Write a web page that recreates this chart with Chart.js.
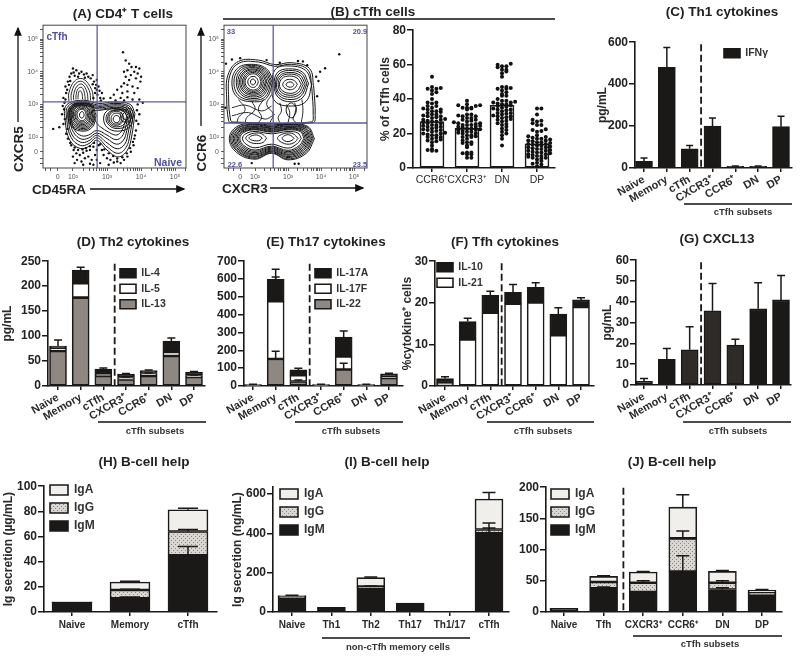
<!DOCTYPE html>
<html>
<head>
<meta charset="utf-8">
<title>cTfh figure</title>
<script src="https://cdn.jsdelivr.net/npm/chart.js@4"></script>
<style>
html, body { margin: 0; padding: 0; background: #fff; }
#page { position: relative; width: 800px; height: 660px; overflow: hidden; filter: blur(0.4px); }
#page canvas, #page svg { position: absolute; }
.lbl { position: absolute; white-space: nowrap; color: #222; font-family: "Liberation Sans", Arial, sans-serif; transform: translate(-50%, -50%); }
</style>
</head>
<body>
<div id="page">
<svg width="800" height="660" style="left:0;top:0">
  <defs><marker id="tip" markerWidth="7" markerHeight="6" refX="6" refY="3" orient="auto"><path d="M0 0L7 3L0 6z" fill="#111"/></marker></defs>
  <g stroke="#111" stroke-width="1.3">
    <line x1="18" y1="122" x2="18" y2="28" marker-end="url(#tip)"/>
    <line x1="90" y1="189" x2="184" y2="189" marker-end="url(#tip)"/>
    <line x1="201" y1="126" x2="201" y2="28" marker-end="url(#tip)"/>
    <line x1="270" y1="188" x2="363" y2="188" marker-end="url(#tip)"/>
    <line x1="223" y1="19" x2="555" y2="19"/>
    <line x1="684" y1="204" x2="792" y2="204"/>
    <line x1="98" y1="422" x2="206" y2="422"/>
    <line x1="295" y1="422" x2="403" y2="422"/>
    <line x1="487" y1="422" x2="594" y2="422"/>
    <line x1="683" y1="422" x2="791" y2="422"/>
    <line x1="322" y1="638" x2="470" y2="638"/>
    <line x1="633" y1="636" x2="782" y2="636"/>
  </g>
</svg>
</div>
<script>
const cytoCats = ['Naive', 'Memory', 'cTfh', 'CXCR3⁺', 'CCR6⁺', 'DN', 'DP']
const subsetCats = ['CCR6⁺', 'CXCR3⁺', 'DN', 'DP']
const helpCatsH = ['Naive', 'Memory', 'cTfh']
const helpCatsI = ['Naive', 'Th1', 'Th2', 'Th17', 'Th1/17', 'cTfh']
const helpCatsJ = ['Naive', 'Tfh', 'CXCR3⁺', 'CCR6⁺', 'DN', 'DP']

const ticksB = [0, 20, 40, 60, 80]
const ticksC = [0, 200, 400, 600]
const ticksD = [0, 50, 100, 150, 200, 250]
const ticksE = [0, 100, 200, 300, 400, 500, 600, 700]
const ticksF = [0, 10, 20, 30]
const ticksG = [0, 10, 20, 30, 40, 50, 60]
const ticksH = [0, 20, 40, 60, 80, 100]
const ticksI = [0, 200, 400, 600]
const ticksJ = [0, 50, 100, 150, 200]

// panel B
const subsetMeans = [27, 23, 36.4, 14]
const ccr6Points = [53,47,46.5,46,46,45,44,43,40,38,38,37.5,36,36,35,34.5,34,34,33,33,32.5,32,31,31,30.5,30,30,29.5,29,28.5,28,28,27.5,27,27,26.5,26,26,25,25,24.5,24,24,23.5,23,22.5,22,22,21.5,21,20.5,20,20,19.5,19,19,18,18,17.5,17,16.5,16,15.5,15,13,11,10.5,10,10]
const cxcr3Points = [39,37,36.5,36.5,36,35,35,35,34.5,34,31,31,30.5,30,30,29,29,28,28,27.5,27,26.5,26,26,25.5,25,25,25,24.5,24,24,23.5,23,23,22.5,22,22,21.5,21,21,20.5,20,20,19,19,18.5,18,18,17,16,15,15,14.5,14,13,12,9,9,8.5,8,8,6,6]
const dnPoints = [60.5,60,59,59,58.5,57,57,56,55,53,47,47,46.5,46,46,45,44,43,42,42,40,39,39,38.5,38,38,37.5,37,37,36.5,36,35.5,35,34.5,34,34,33.5,33,32,32,31.5,31,30.5,30,30,29.5,29,28.5,28,27.5,27,26,25.5,25,24,23,22,21,20,19,17,13]
const dpPoints = [34.5,34.5,31,28,27.5,27,26,25,25,22.5,22,21.5,21,19,18.5,18,17.5,17,17,16.5,16,16,15.5,15,15,14.5,14,14,13.5,13,13,12.5,12,12,11.5,11,11,10.5,10,10,9.5,9,9,8.5,8,8,7.5,7,7,6.5,6,6,5.5,5,4,3,2.5,2,1]

// panel C
const ifng = [32, 480, 92, 200, 8, 8, 197]
const ifngErr = [16, 95, 15, 38, 2, 2, 50]
// panel D
const il13 = [70, 177, 20, 13, 20, 60, 18]
const il13Err = [0, 0, 0, 0, 0, 0, 0]
const il5 = [6, 29, 4, 4, 5, 8, 3]
const il5Err = [0, 0, 2, 1, 1, 0, 1]
const il4 = [4, 26, 10, 7, 6, 22, 7]
const il4Err = [12, 6, 2, 1, 1, 6, 1]
// panel E
const il22 = [4, 152, 25, 4, 92, 4, 45]
const il22Err = [0, 43, 8, 0, 36, 0, 0]
const il17f = [2, 323, 35, 2, 73, 2, 5]
const il17fErr = [0, 137, 5, 0, 0, 0, 0]
const il17a = [2, 123, 30, 2, 110, 2, 18]
const il17aErr = [2, 57, 10, 2, 33, 2, 4]
// panel F
const il21 = [0.7, 11.2, 17.6, 19.8, 20.1, 12.2, 19]
const il21Err = [0, 0, 0, 0, 0, 0, 0]
const il10 = [1.1, 4.3, 4.2, 2.7, 3.6, 5.1, 1.7]
const il10Err = [0.4, 0.8, 1, 1.9, 1.1, 1.5, 0.5]
// panel G
const cxcl13 = [1.8, 12.3, 16.9, 35.7, 19.2, 36.6, 40.9]
const cxcl13Err = [1.3, 5.3, 11.1, 13.1, 2.8, 12.6, 11.8]
// panel H
const igmH = [7.6, 11, 45]
const igmHErr = [0, 1, 7]
const iggH = [0.2, 6.5, 19]
const iggHErr = [0, 0.5, 1.5]
const igaH = [0.2, 6.3, 17.3]
const igaHErr = [0, 0.7, 1.2]
// panel I
const igmI = [72, 24, 122, 45, 0, 400]
const igmIErr = [0, 0, 0, 0, 0, 28]
const iggI = [6, 0, 8, 0, 0, 20]
const iggIErr = [0, 0, 2, 0, 0, 33]
const igaI = [6, 0, 45, 0, 0, 155]
const igaIErr = [1, 0, 3, 0, 0, 33]
// panel J
const igmJ = [6, 38, 32, 65, 36, 27]
const igmJErr = [0, 2, 0, 25, 3, 0]
const iggJ = [0, 10, 15, 53, 11, 4]
const iggJErr = [0, 0, 3, 12, 3, 0]
const igaJ = [0, 9, 17, 50, 18, 4]
const igaJErr = [0, 1, 1, 20, 1.5, 1]

// flow plots, values in decades of the biexponential axis
const flowTicks = [1.55, 2, 3, 4, 5]
const flowTickLabels = ['0', '10²', '10³', '10⁴', '10⁵']
const flowMinorTicks = [1.2, 1.35, 2.3, 2.48, 2.6, 2.7, 2.78, 2.85, 2.9, 2.95, 3.3, 3.48, 3.6, 3.7, 3.78, 3.85, 3.9, 3.95, 4.3, 4.48, 4.6, 4.7, 4.78, 4.85, 4.9, 4.95, 5.3]

const aGateX = 2.71
const aGateY = 3.08
const bGateX = 2.55
const bGateY = 2.43

const aRings = [
  [[2.33,2.68],[2.31,2.75],[2.26,2.78],[2.21,2.74],[2.19,2.67],[2.21,2.61],[2.26,2.58],[2.31,2.62]],
  [[2.39,2.68],[2.35,2.80],[2.26,2.85],[2.16,2.80],[2.12,2.68],[2.17,2.55],[2.27,2.50],[2.36,2.56]],
  [[2.43,2.67],[2.38,2.82],[2.26,2.88],[2.13,2.82],[2.08,2.68],[2.14,2.52],[2.27,2.46],[2.39,2.53]],
  [[2.46,2.66],[2.41,2.84],[2.26,2.92],[2.11,2.85],[2.05,2.68],[2.12,2.50],[2.28,2.42],[2.42,2.50]],
  [[2.50,2.66],[2.44,2.86],[2.26,2.95],[2.08,2.88],[2.01,2.68],[2.09,2.47],[2.28,2.38],[2.45,2.47]],
  [[2.53,2.66],[2.46,2.88],[2.26,2.98],[2.06,2.90],[1.98,2.68],[2.07,2.44],[2.29,2.34],[2.47,2.44]],
  [[2.57,2.65],[2.49,2.90],[2.26,3.00],[2.03,2.92],[1.94,2.68],[2.04,2.41],[2.30,2.30],[2.50,2.41]],
  [[2.60,2.64],[2.52,2.93],[2.27,3.03],[2.01,2.94],[1.91,2.68],[2.02,2.38],[2.30,2.26],[2.53,2.38]],
  [[2.64,2.65],[2.54,2.95],[2.27,3.05],[1.99,2.95],[1.88,2.67],[2.00,2.34],[2.31,2.22],[2.55,2.35]],
  [[2.68,2.66],[2.56,2.97],[2.27,3.07],[1.97,2.97],[1.85,2.66],[1.98,2.30],[2.32,2.18],[2.58,2.32]],
  [[3.38,2.55],[3.35,2.63],[3.28,2.66],[3.21,2.63],[3.18,2.55],[3.21,2.47],[3.28,2.44],[3.35,2.47]],
  [[3.44,2.57],[3.38,2.70],[3.28,2.73],[3.17,2.69],[3.12,2.56],[3.16,2.44],[3.28,2.40],[3.39,2.44]],
  [[3.66,2.65],[3.62,2.74],[3.56,2.78],[3.49,2.74],[3.46,2.65],[3.49,2.56],[3.56,2.52],[3.62,2.56]],
  [[3.72,2.65],[3.66,2.80],[3.56,2.84],[3.44,2.78],[3.40,2.65],[3.44,2.50],[3.56,2.46],[3.67,2.50]],
  [[3.50,2.58],[3.42,2.74],[3.28,2.78],[3.13,2.74],[3.06,2.58],[3.12,2.42],[3.28,2.36],[3.42,2.42]],
  [[3.60,2.60],[3.50,2.78],[3.29,2.82],[3.10,2.76],[3.02,2.58],[3.09,2.39],[3.29,2.31],[3.50,2.39]],
  [[3.72,2.60],[3.60,2.80],[3.30,2.84],[3.08,2.78],[2.97,2.58],[3.06,2.36],[3.30,2.26],[3.60,2.36]],
  [[3.78,2.66],[3.70,2.86],[3.30,2.88],[3.02,2.82],[2.90,2.58],[3.00,2.30],[3.30,2.18],[3.66,2.30]],
  [[3.82,2.72],[3.68,3.00],[3.20,3.07],[2.75,3.03],[2.30,3.13],[1.81,2.98],[1.77,2.52],[1.91,1.90],[2.21,1.65],[2.48,1.72],[2.70,1.90],[3.00,1.60],[3.33,1.39],[3.60,1.60],[3.72,2.00]],
  [[3.77,2.72],[3.64,2.96],[3.20,3.03],[2.75,2.98],[2.30,3.09],[1.86,2.95],[1.82,2.52],[1.95,1.98],[2.22,1.74],[2.47,1.80],[2.70,1.98],[3.00,1.70],[3.32,1.50],[3.56,1.68],[3.67,2.05]],
  [[3.72,2.70],[3.60,2.93],[3.20,2.99],[2.75,2.94],[2.30,3.05],[1.90,2.92],[1.87,2.50],[1.98,2.06],[2.23,1.84],[2.46,1.88],[2.70,2.05],[3.00,1.82],[3.30,1.64],[3.52,1.78],[3.62,2.12]],
  [[3.67,2.68],[3.55,2.90],[3.20,2.95],[2.75,2.90],[2.30,3.02],[1.95,2.90],[1.92,2.50],[2.02,2.14],[2.24,1.94],[2.46,1.97],[2.70,2.12],[3.00,1.95],[3.28,1.78],[3.48,1.90],[3.58,2.20]],
  [[3.62,2.66],[3.50,2.86],[3.20,2.91],[2.78,2.86],[2.30,2.98],[2.00,2.88],[1.96,2.50],[2.06,2.20],[2.25,2.04],[2.46,2.06],[2.70,2.20],[3.00,2.06],[3.26,1.92],[3.44,2.02],[3.54,2.28]],
  [[3.58,2.64],[3.46,2.82],[3.20,2.87],[2.80,2.82],[2.55,2.78],[2.72,2.40],[2.85,2.28],[3.00,2.18],[3.25,2.06],[3.40,2.14],[3.50,2.36]]
]
const aArches = [
  [[2.60,3.12],[2.55,3.45],[2.30,3.78],[2.05,3.72],[1.88,3.35],[1.88,3.10]],
  [[2.52,3.12],[2.48,3.42],[2.28,3.70],[2.08,3.64],[1.95,3.32],[1.95,3.12]],
  [[2.44,3.12],[2.41,3.38],[2.27,3.62],[2.12,3.56],[2.02,3.30],[2.02,3.14]],
  [[2.36,3.14],[2.34,3.34],[2.26,3.52],[2.15,3.48],[2.09,3.28],[2.09,3.15]],
  [[2.28,3.16],[2.27,3.32],[2.22,3.42],[2.18,3.40],[2.15,3.26],[2.15,3.16]]
]
const aDots = [[1.80,3.35],[1.78,3.55],[1.85,3.70],[1.90,3.85],[1.95,3.95],[2.02,3.98],[2.10,4.05],[2.18,3.95],[2.25,4.00],[2.32,3.92],[2.40,3.95],[2.45,3.85],[2.52,3.80],[2.58,3.90],[2.62,3.70],[2.68,3.60],[2.70,3.75],[2.75,3.55],[2.78,3.42],[2.72,3.30],[2.65,3.35],[2.80,3.20],[2.85,3.35],[2.90,3.18],[1.72,3.20],[1.75,3.05],[2.00,4.10],[1.88,3.60],[2.65,3.50],[2.60,3.20],[1.83,3.45],[1.92,3.72],[2.05,3.88],[2.15,3.85],[2.35,3.82],[2.58,3.62],[2.70,3.45],[2.82,3.12],[1.78,3.15],
  [3.55,4.35],[3.65,4.25],[3.72,4.15],[3.85,4.15],[3.95,4.10],[3.50,4.00],[3.60,4.05],[3.80,4.00],[3.90,3.95],[3.70,3.90],[3.55,3.85],[3.65,3.75],[3.85,3.80],[3.98,3.70],[4.00,3.85],[3.50,3.65],[3.42,3.55],[3.60,3.60],[3.75,3.55],[3.90,3.50],[3.30,3.45],[3.45,3.35],[3.60,3.40],[3.80,3.35],[3.20,3.30],[3.10,3.20],[3.40,3.20],[3.60,3.22],[3.75,3.15],[3.95,3.15],[4.05,3.05],[3.25,3.12],[3.50,3.12],[3.47,4.60],
  [1.95,1.75],[2.02,1.60],[2.10,1.50],[2.20,1.45],[2.30,1.52],[2.40,1.58],[2.50,1.60],[2.60,1.70],[2.00,1.40],[2.12,1.30],[2.25,1.25],[2.35,1.35],[2.45,1.40],[2.55,1.30],[2.65,1.45],[2.70,1.60],[2.75,1.75],[2.85,1.60],[2.90,1.45],[3.00,1.35],[3.10,1.30],[3.20,1.22],[3.30,1.25],[3.40,1.20],[3.50,1.30],[3.60,1.40],[3.70,1.55],[3.78,1.75],[2.05,1.20],[2.30,1.15],[2.60,1.15],[2.80,1.20],[3.05,1.15],[2.70,1.30],[2.50,1.18],[1.85,1.95],[1.80,2.10],[3.80,1.95],[3.85,2.20],[3.92,2.40],[3.95,2.70],[1.72,2.40],[1.68,2.70],[1.70,2.95],[3.90,3.00],[1.42,2.25],[1.60,2.30],
  [1.92,1.82],[2.05,1.68],[2.15,1.60],[2.28,1.62],[2.38,1.66],[2.50,1.72],[2.62,1.82],[2.80,1.78],[2.92,1.62],[3.05,1.50],[3.18,1.42],[3.30,1.34],[3.45,1.38],[3.58,1.50],[3.68,1.66],[3.76,1.85],[3.82,2.05],[1.84,2.25],[1.76,2.55],[1.74,2.85],[3.86,2.50],[3.88,2.82]]

const bRings = [
  [[2.02,3.69],[1.99,3.75],[1.94,3.78],[1.88,3.75],[1.86,3.68],[1.89,3.62],[1.94,3.60],[1.99,3.63]],
  [[2.10,3.70],[2.04,3.82],[1.94,3.86],[1.83,3.81],[1.78,3.69],[1.83,3.57],[1.95,3.52],[2.05,3.58]],
  [[2.18,3.70],[2.10,3.87],[1.93,3.94],[1.77,3.86],[1.70,3.68],[1.78,3.51],[1.95,3.44],[2.11,3.52]],
  [[2.22,3.70],[2.13,3.90],[1.93,3.98],[1.74,3.89],[1.66,3.68],[1.75,3.48],[1.95,3.40],[2.14,3.49]],
  [[2.27,3.70],[2.16,3.93],[1.93,4.02],[1.71,3.92],[1.62,3.68],[1.72,3.45],[1.96,3.36],[2.17,3.46]],
  [[2.32,3.71],[2.19,3.96],[1.92,4.06],[1.67,3.95],[1.57,3.68],[1.69,3.41],[1.96,3.32],[2.20,3.42]],
  [[2.36,3.72],[2.22,3.98],[1.92,4.09],[1.64,3.97],[1.53,3.68],[1.66,3.38],[1.96,3.28],[2.22,3.38]],
  [[2.41,3.72],[2.25,4.01],[1.91,4.13],[1.60,4.00],[1.48,3.68],[1.62,3.34],[1.96,3.23],[2.25,3.34]],
  [[2.46,3.72],[2.28,4.04],[1.90,4.16],[1.56,4.04],[1.43,3.68],[1.58,3.30],[1.97,3.18],[2.28,3.30]],
  [[2.50,3.73],[2.31,4.07],[1.89,4.20],[1.51,4.07],[1.36,3.67],[1.52,3.26],[1.98,3.13],[2.32,3.25]],
  [[2.55,3.74],[2.34,4.10],[1.88,4.23],[1.46,4.10],[1.30,3.66],[1.47,3.22],[1.98,3.08],[2.35,3.20]],
  [[3.18,3.61],[3.13,3.67],[3.05,3.69],[2.97,3.66],[2.94,3.60],[2.98,3.55],[3.07,3.53],[3.14,3.55]],
  [[3.28,3.62],[3.19,3.73],[3.04,3.77],[2.90,3.72],[2.84,3.60],[2.91,3.50],[3.07,3.45],[3.20,3.50]],
  [[3.40,3.62],[3.27,3.81],[3.03,3.87],[2.82,3.80],[2.74,3.60],[2.83,3.42],[3.08,3.34],[3.28,3.42]],
  [[3.46,3.62],[3.32,3.86],[3.02,3.93],[2.78,3.84],[2.70,3.60],[2.80,3.37],[3.08,3.28],[3.32,3.37]],
  [[3.52,3.62],[3.36,3.90],[3.02,3.98],[2.75,3.88],[2.65,3.60],[2.76,3.32],[3.08,3.22],[3.36,3.32]],
  [[3.57,3.63],[3.40,3.95],[3.02,4.04],[2.72,3.93],[2.62,3.60],[2.73,3.27],[3.09,3.15],[3.40,3.27]],
  [[3.62,3.64],[3.44,3.99],[3.02,4.09],[2.68,3.98],[2.58,3.60],[2.70,3.22],[3.10,3.08],[3.45,3.22]],
  [[3.72,3.62],[3.52,4.05],[3.00,4.18],[2.62,4.08],[2.52,3.60],[2.60,3.10],[3.10,2.95],[3.55,3.10]],
  [[3.78,3.50],[3.65,4.10],[3.10,4.28],[2.60,4.22],[2.10,4.36],[1.50,4.32],[1.18,3.90],[1.14,3.20],[1.20,2.50],[1.28,2.44],[3.75,2.44],[3.82,2.70]],
  [[3.72,3.50],[3.60,4.06],[3.10,4.23],[2.60,4.17],[2.10,4.30],[1.52,4.27],[1.24,3.90],[1.20,3.20],[1.26,2.52],[1.33,2.46],[3.70,2.46],[3.76,2.70]],
  [[3.25,2.90],[3.10,3.05],[2.95,2.90],[3.00,2.65],[3.15,2.60]],
  [[3.80,1.95],[3.60,2.32],[3.00,2.42],[2.50,2.36],[2.00,2.42],[1.45,2.32],[1.22,1.95],[1.45,1.52],[2.00,1.32],[2.50,1.50],[3.00,1.30],[3.55,1.50]],
  [[3.76,1.95],[3.58,2.30],[3.00,2.39],[2.50,2.33],[2.00,2.39],[1.48,2.29],[1.26,1.95],[1.48,1.55],[2.00,1.35],[2.50,1.52],[3.00,1.33],[3.52,1.53]],
  [[3.72,1.95],[3.55,2.28],[3.00,2.37],[2.50,2.31],[2.00,2.37],[1.50,2.27],[1.30,1.95],[1.50,1.57],[2.00,1.38],[2.50,1.55],[3.00,1.37],[3.50,1.56]],
  [[3.68,1.95],[3.52,2.26],[3.00,2.34],[2.50,2.28],[2.00,2.34],[1.52,2.24],[1.34,1.95],[1.52,1.60],[2.00,1.41],[2.50,1.57],[3.00,1.40],[3.47,1.59]],
  [[3.64,1.95],[3.50,2.24],[3.00,2.32],[2.50,2.26],[2.00,2.32],[1.55,2.22],[1.38,1.95],[1.55,1.62],[2.00,1.45],[2.50,1.60],[3.00,1.44],[3.45,1.62]],
  [[3.60,1.95],[3.47,2.22],[3.00,2.29],[2.50,2.23],[2.00,2.29],[1.57,2.20],[1.42,1.95],[1.57,1.65],[2.00,1.48],[2.50,1.63],[3.00,1.47],[3.42,1.65]],
  [[3.56,1.96],[3.44,2.20],[3.00,2.27],[2.50,2.20],[2.00,2.27],[1.60,2.18],[1.46,1.96],[1.60,1.68],[2.00,1.52],[2.50,1.66],[3.00,1.51],[3.40,1.68]],
  [[3.52,1.96],[3.41,2.18],[3.00,2.24],[2.50,2.17],[2.00,2.24],[1.63,2.16],[1.50,1.96],[1.63,1.71],[2.00,1.56],[2.50,1.69],[3.00,1.55],[3.37,1.71]],
  [[3.48,1.96],[3.38,2.16],[3.00,2.22],[2.50,2.15],[2.00,2.22],[1.66,2.14],[1.54,1.96],[1.66,1.74],[2.00,1.60],[2.50,1.72],[3.00,1.59],[3.34,1.74]],
  [[3.40,1.96],[3.30,2.12],[3.00,2.17],[2.50,2.10],[2.00,2.17],[1.72,2.10],[1.62,1.96],[1.72,1.79],[2.00,1.67],[2.50,1.78],[3.00,1.66],[3.28,1.80]],
  [[2.35,1.97],[2.20,2.10],[2.00,2.12],[1.80,2.06],[1.72,1.96],[1.85,1.84],[2.05,1.80],[2.25,1.84]],
  [[2.22,1.97],[2.10,2.05],[1.98,2.06],[1.86,2.02],[1.82,1.96],[1.92,1.90],[2.05,1.88],[2.15,1.90]],
  [[3.30,1.96],[3.15,2.10],[2.95,2.12],[2.75,2.05],[2.68,1.96],[2.80,1.84],[3.00,1.78],[3.20,1.84]],
  [[3.18,1.96],[3.08,2.05],[2.97,2.07],[2.86,2.02],[2.82,1.96],[2.90,1.88],[3.00,1.86],[3.12,1.90]]
]
const bMesh = [
  [[1.50,3.15],[1.70,2.85],[1.50,2.60],[1.45,2.44]],
  [[1.90,3.10],[2.00,2.85],[1.75,2.60],[1.70,2.44]],
  [[2.25,3.15],[2.10,2.85],[2.20,2.60],[2.10,2.44]],
  [[2.50,3.30],[2.35,3.00],[2.55,2.70],[2.45,2.44]],
  [[2.75,3.05],[2.80,2.80],[2.70,2.60],[2.75,2.44]],
  [[2.95,3.00],[3.05,2.75],[3.00,2.44]],
  [[3.20,3.05],[3.25,2.80],[3.15,2.55],[3.25,2.44]],
  [[3.42,3.15],[3.45,2.80],[3.40,2.44]],
  [[1.30,2.90],[1.70,2.98],[2.20,2.80],[2.50,2.95]],
  [[1.30,2.65],[1.80,2.75],[2.30,2.55],[2.60,2.70]]
]
const bDots = [[4.55,4.54],[4.12,4.11],[3.97,4.00],[3.58,4.20],[3.30,4.33],[3.45,4.32],[3.85,3.85],[3.92,3.72],[1.12,4.25],[1.30,4.38],[1.55,4.42],[2.35,4.36],[2.75,4.28],[1.90,1.20],[3.20,1.18],[3.32,1.18],[1.10,2.90],[3.88,3.25]]

Chart.defaults.font.family = '"Liberation Sans", Arial, sans-serif'
Chart.defaults.color = '#222'
Chart.defaults.animation = false

const ink = '#1b1917'
const page = document.getElementById('page')

function text(str, x, y, style) {
  const d = document.createElement('div')
  d.className = 'lbl'
  d.textContent = str
  d.style.left = x + 'px'
  d.style.top = y + 'px'
  d.style.cssText += style
  page.appendChild(d)
}

function dottedFill() {
  const c = document.createElement('canvas')
  c.width = 4
  c.height = 4
  const g = c.getContext('2d')
  g.fillStyle = '#d9d6d2'
  g.fillRect(0, 0, 4, 4)
  g.fillStyle = '#8d8985'
  g.fillRect(0, 0, 1, 1)
  g.fillRect(2, 2, 1, 1)
  return g.createPattern(c, 'repeat')
}
const igFills = { iga: '#f1efec', igg: dottedFill(), igm: ink }

// error bars, dashed divider, legend placement, flow plot frame
const marks = {
  id: 'marks',
  afterLayout(chart) {
    const o = chart.options.plugins.marks
    if (o.legendAt && chart.legend) {
      chart.legend.left = o.legendAt[0] - parseInt(chart.canvas.style.left) - chart.legend.options.labels.padding
      chart.legend.top = o.legendAt[1] - parseInt(chart.canvas.style.top) - chart.legend.options.labels.padding
    }
  },
  afterDatasetsDraw(chart) {
    const o = chart.options.plugins.marks
    const { ctx, scales: { x, y } } = chart
    ctx.save()
    ctx.strokeStyle = ink
    ctx.lineWidth = 1.5
    const base = []
    chart.data.datasets.forEach(ds => {
      if (!ds.err) return
      ds.err.forEach((e, i) => {
        base[i] = (base[i] || 0) + ds.data[i].y
        if (!e) return
        const px = x.getPixelForValue(i)
        const top = y.getPixelForValue(base[i] + e)
        ctx.beginPath()
        ctx.moveTo(px, y.getPixelForValue(base[i]))
        ctx.lineTo(px, top)
        ctx.moveTo(px - o.capW / 2, top)
        ctx.lineTo(px + o.capW / 2, top)
        ctx.stroke()
      })
    })
    if (o.dashAt !== undefined) {
      const px = x.getPixelForValue(o.dashAt)
      ctx.lineWidth = 1.8
      ctx.setLineDash([7, 3.5])
      ctx.beginPath()
      ctx.moveTo(px, y.getPixelForValue(o.dashTop))
      ctx.lineTo(px, y.getPixelForValue(0))
      ctx.stroke()
    }
    if (o.frame) {
      const a = chart.chartArea
      ctx.setLineDash([])
      ctx.lineWidth = 1
      ctx.strokeStyle = '#444'
      ctx.strokeRect(a.left, a.top, a.right - a.left, a.bottom - a.top)
    }
    ctx.restore()
  }
}
Chart.register(marks)

function place(id, left, top, w, h) {
  const c = document.createElement('canvas')
  c.id = id
  c.width = w
  c.height = h
  c.style.left = left + 'px'
  c.style.top = top + 'px'
  page.appendChild(c)
  return c
}

const xy = vals => vals.map((v, i) => ({ x: i, y: v }))

function axisBits(color, len) {
  return { display: true, drawOnChartArea: false, drawTicks: true, tickLength: len, color: color, tickColor: color, lineWidth: 1.5, offset: false }
}

function barPanel(id, p) {
  const topGap = 6
  const rightGap = 8
  const xH = p.xH || 46
  const w = p.yW + (p.right - p.left) + rightGap
  const h = topGap + (p.bottom - p.top) + xH
  const canvas = place(id, p.left - p.yW, p.top - topGap, w, h)
  const n = p.cats.length
  const spacing = (p.last - p.first) / (n - 1)
  const legendOn = !!p.legendAt
  return new Chart(canvas, {
    type: 'bar',
    data: {
      datasets: (p.extra || []).concat(p.sets.map(s => ({
        label: s.label,
        data: xy(s.values),
        err: s.err,
        backgroundColor: s.fill,
        borderColor: ink,
        borderWidth: 1.6,
        borderSkipped: false,
        barThickness: p.barW,
        order: 2
      })))
    },
    options: {
      responsive: false,
      layout: { autoPadding: false, padding: { top: topGap, right: rightGap, left: 0, bottom: 0 } },
      plugins: {
        tooltip: { enabled: false },
        legend: {
          display: legendOn,
          position: 'chartArea',
          align: 'start',
          reverse: true,
          labels: { boxWidth: p.boxW || 16, boxHeight: p.boxH || 9, padding: p.legendGap || 5, font: { size: p.legendSize || 10.5, weight: 'bold' }, color: '#333' }
        },
        marks: { capW: p.capW || 8, dashAt: p.dashAt, dashTop: p.dashTop, legendAt: p.legendAt }
      },
      scales: {
        x: {
          type: 'linear',
          stacked: !p.extra,
          offset: false,
          min: (p.left - p.first) / spacing,
          max: (p.right - p.first) / spacing,
          afterBuildTicks: a => { a.ticks = p.cats.map((c, i) => ({ value: i })) },
          afterFit: s => { s.height = xH },
          grid: axisBits(ink, 4),
          border: { display: true, color: ink, width: 1.6 },
          ticks: {
            autoSkip: false,
            minRotation: p.rot === undefined ? 30 : p.rot,
            maxRotation: p.rot === undefined ? 30 : p.rot,
            padding: p.xPad === undefined ? 1 : p.xPad,
            font: { size: p.xSize || 11, weight: p.xWeight || 'bold' },
            color: '#2a2a2a',
            callback: v => p.cats[v]
          }
        },
        y: {
          stacked: !p.extra,
          min: 0,
          max: p.max,
          afterBuildTicks: a => { a.ticks = p.yTicks.map(v => ({ value: v })) },
          afterFit: s => { s.width = p.yW },
          title: p.yTitle ? { display: true, text: p.yTitle, padding: 0, font: { size: p.yTitleSize || 12, weight: 'bold' }, color: '#2a2a2a' } : { display: false },
          grid: axisBits(ink, 6),
          border: { display: true, color: ink, width: 1.6 },
          ticks: { padding: 1, font: { size: 12, weight: 'bold' }, color: '#222' }
        }
      }
    }
  })
}

function lineSets(list, closed, width) {
  return list.map(r => ({
    type: 'scatter',
    data: (closed ? r.concat([r[0]]) : r).map(q => ({ x: q[0], y: q[1] })),
    showLine: true,
    tension: 0.4,
    borderColor: '#141414',
    borderWidth: width,
    pointRadius: 0
  }))
}

function flowPanel(id, p) {
  const canvas = place(id, p.left - 43, p.top - 6, 43 + 143 + 6, 6 + 143 + 24)
  const allTicks = flowTicks.concat(flowMinorTicks)
  const axis = (min, max, isX) => ({
    min: min,
    max: max,
    afterBuildTicks: a => { a.ticks = allTicks.map(v => ({ value: v })) },
    afterFit: s => { if (isX) s.height = 24; else s.width = 43 },
    grid: { display: true, drawOnChartArea: false, drawTicks: true, tickLength: 3, color: '#333', tickColor: '#333', lineWidth: 0.8 },
    border: { display: false },
    ticks: {
      autoSkip: false,
      minRotation: 0,
      maxRotation: 0,
      padding: 2,
      font: { size: 7 },
      color: '#555',
      callback: v => { const k = flowTicks.indexOf(v); return k < 0 ? '' : flowTickLabels[k] }
    }
  })
  const gate = (pts) => ({ type: 'scatter', data: pts, showLine: true, borderColor: '#5d5da0', borderWidth: 1.3, pointRadius: 0 })
  return new Chart(canvas, {
    type: 'scatter',
    data: {
      datasets: [
        gate([{ x: p.gateX, y: p.yMin }, { x: p.gateX, y: p.yMax }]),
        gate([{ x: p.xMin, y: p.gateY }, { x: p.xMax, y: p.gateY }]),
        { data: p.dots.map(q => ({ x: q[0], y: q[1] })), pointRadius: 1.2, pointBackgroundColor: '#111', pointBorderWidth: 0 }
      ].concat(lineSets(p.rings, true, 1), lineSets(p.open, false, 0.9))
    },
    options: {
      responsive: false,
      layout: { autoPadding: false, padding: { top: 6, right: 6, left: 0, bottom: 0 } },
      plugins: { tooltip: { enabled: false }, legend: { display: false }, marks: { capW: 0, frame: true } },
      scales: { x: axis(p.xMin, p.xMax, true), y: axis(p.yMin, p.yMax, false) }
    }
  })
}

// values in a row spread sideways with the lowest one in the middle
function swarm(values, col) {
  const rows = {}
  values.forEach(v => {
    const k = Math.round(v / 2)
    rows[k] = rows[k] || []
    rows[k].push(v)
  })
  const out = []
  Object.values(rows).forEach(r => {
    r.sort((a, b) => a - b).forEach((v, i) => {
      const slot = i === 0 ? 0 : (i % 2 ? (i + 1) / 2 : -i / 2)
      out.push({ x: col + slot * 0.125, y: v })
    })
  })
  return out
}

flowPanel('panelA', { left: 43, top: 25, xMin: 1.12, xMax: 5.32, yMin: 1.05, yMax: 5.43, gateX: aGateX, gateY: aGateY, rings: aRings, open: aArches, dots: aDots })
flowPanel('panelB1', { left: 224, top: 25, xMin: 1.06, xMax: 5.39, yMin: 1.05, yMax: 5.43, gateX: bGateX, gateY: bGateY, rings: bRings, open: bMesh, dots: bDots })

barPanel('panelB2', {
  left: 413, right: 555, top: 28, bottom: 168, first: 432, last: 537, barW: 24, yW: 35, xH: 30,
  cats: subsetCats, max: 80, yTicks: ticksB, yTitle: '% of cTfh cells', rot: 0, xSize: 10.5, xWeight: 'normal', xPad: 2,
  extra: [ccr6Points, cxcr3Points, dnPoints, dpPoints].map((vals, i) => ({
    type: 'scatter', data: swarm(vals, i), pointRadius: 2, pointBackgroundColor: '#111', pointBorderWidth: 0, order: 1
  })),
  sets: [{ label: '% of cTfh cells', values: subsetMeans, fill: '#fff' }]
})

barPanel('panelC', {
  left: 635, right: 792, top: 40, bottom: 168, first: 644, last: 781, barW: 17, yW: 40,
  cats: cytoCats, max: 600, yTicks: ticksC, yTitle: 'pg/mL', capW: 7, dashAt: 2.5, dashTop: 590, legendAt: [724, 48],
  sets: [{ label: 'IFNγ', values: ifng, err: ifngErr, fill: ink }]
})
barPanel('panelD', {
  left: 48, right: 205, top: 259, bottom: 386, first: 58, last: 194, barW: 17, yW: 48,
  cats: cytoCats, max: 250, yTicks: ticksD, yTitle: 'pg/mL', dashAt: 2.5, dashTop: 245, legendAt: [120, 268],
  sets: [
    { label: 'IL-13', values: il13, err: il13Err, fill: '#8f8882' },
    { label: 'IL-5', values: il5, err: il5Err, fill: '#fff' },
    { label: 'IL-4', values: il4, err: il4Err, fill: ink }
  ]
})
barPanel('panelE', {
  left: 244, right: 403, top: 259, bottom: 386, first: 253, last: 389, barW: 17, yW: 47,
  cats: cytoCats, max: 700, yTicks: ticksE, dashAt: 2.5, dashTop: 685, legendAt: [315, 268],
  sets: [
    { label: 'IL-22', values: il22, err: il22Err, fill: '#8f8882' },
    { label: 'IL-17F', values: il17f, err: il17fErr, fill: '#fff' },
    { label: 'IL-17A', values: il17a, err: il17aErr, fill: ink }
  ]
})
barPanel('panelF', {
  left: 435, right: 594, top: 259, bottom: 386, first: 445, last: 581, barW: 17, yW: 35,
  cats: cytoCats, max: 30, yTicks: ticksF, yTitle: '%cytokine⁺ cells', dashAt: 2.5, dashTop: 29.5, legendAt: [437, 262],
  sets: [
    { label: 'IL-21', values: il21, err: il21Err, fill: '#fff' },
    { label: 'IL-10', values: il10, err: il10Err, fill: ink }
  ]
})
barPanel('panelG', {
  left: 636, right: 791, top: 258, bottom: 385, first: 644, last: 781, barW: 17, yW: 36,
  cats: cytoCats, max: 60, yTicks: ticksG, yTitle: 'pg/mL', dashAt: 2.5, dashTop: 59,
  sets: [{ label: 'CXCL13', values: cxcl13, err: cxcl13Err, fill: [ink, ink, '#2f2b28', '#2f2b28', '#2f2b28', ink, ink] }]
})

const igPanel = { boxW: 18, boxH: 10, legendGap: 6, legendSize: 12, xH: 24, rot: 0, xSize: 10, xPad: 3 }
barPanel('panelH', Object.assign({}, igPanel, {
  left: 44, right: 217, top: 484, bottom: 612, first: 72, last: 188, barW: 40, yW: 43, capW: 20,
  cats: helpCatsH, max: 100, yTicks: ticksH, yTitle: 'Ig secretion (µg/mL)', legendAt: [50, 484],
  sets: [
    { label: 'IgM', values: igmH, err: igmHErr, fill: igFills.igm },
    { label: 'IgG', values: iggH, err: iggHErr, fill: igFills.igg },
    { label: 'IgA', values: igaH, err: igaHErr, fill: igFills.iga }
  ]
}))
barPanel('panelI', Object.assign({}, igPanel, {
  left: 273, right: 509, top: 485, bottom: 612, first: 292, last: 489, barW: 28, yW: 43, capW: 13,
  cats: helpCatsI, max: 635, yTicks: ticksI, yTitle: 'Ig secretion (ng/mL)', legendAt: [280, 488],
  sets: [
    { label: 'IgM', values: igmI, err: igmIErr, fill: igFills.igm },
    { label: 'IgG', values: iggI, err: iggIErr, fill: igFills.igg },
    { label: 'IgA', values: igaI, err: igaIErr, fill: igFills.iga }
  ]
}))
barPanel('panelJ', Object.assign({}, igPanel, {
  left: 546, right: 782, top: 485, bottom: 612, first: 564, last: 762, barW: 28, yW: 30, capW: 13,
  cats: helpCatsJ, max: 200, yTicks: ticksJ, dashAt: 1.5, dashTop: 199, legendAt: [551, 488],
  sets: [
    { label: 'IgM', values: igmJ, err: igmJErr, fill: igFills.igm },
    { label: 'IgG', values: iggJ, err: iggJErr, fill: igFills.igg },
    { label: 'IgA', values: igaJ, err: igaJErr, fill: igFills.iga }
  ]
}))

const headStyle = 'font-weight:bold;font-size:13.5px;color:#222;'
text('(A) CD4⁺ T cells', 123, 13, headStyle)
text('(B) cTfh cells', 373, 11, headStyle)
text('(C) Th1 cytokines', 722, 11, headStyle)
text('(D) Th2 cytokines', 133, 241, headStyle)
text('(E) Th17 cytokines', 326, 241, headStyle)
text('(F) Tfh cytokines', 505, 241, headStyle)
text('(G) CXCL13', 717, 238, headStyle)
text('(H) B-cell help', 144, 461, headStyle)
text('(I) B-cell help', 387, 461, headStyle)
text('(J) B-cell help', 672, 461, headStyle)

const noteStyle = 'font-weight:bold;font-size:9.5px;color:#333;'
text('cTfh subsets', 743, 211, noteStyle)
text('cTfh subsets', 155, 430, noteStyle)
text('cTfh subsets', 351, 430, noteStyle)
text('cTfh subsets', 543, 430, noteStyle)
text('cTfh subsets', 738, 430, noteStyle)
text('non-cTfh memory cells', 398, 646, noteStyle)
text('cTfh subsets', 710, 643, noteStyle)

const axisStyle = 'font-weight:bold;font-size:13.5px;'
text('CD45RA', 59, 189, axisStyle)
text('CXCR3', 245, 188, axisStyle)
text('CXCR5', 18, 149, axisStyle + 'transform:translate(-50%,-50%) rotate(-90deg);')
text('CCR6', 201, 153, axisStyle + 'transform:translate(-50%,-50%) rotate(-90deg);')

const gateStyle = 'font-weight:bold;color:#4f4f9c;'
text('cTfh', 57, 36, gateStyle + 'font-size:10px;')
text('Naive', 168, 162, gateStyle + 'font-size:10.5px;')
text('33', 231, 31, gateStyle + 'font-size:7.5px;')
text('20.9', 360, 31, gateStyle + 'font-size:7.5px;')
text('22.6', 235, 164, gateStyle + 'font-size:7.5px;')
text('23.5', 360, 164, gateStyle + 'font-size:7.5px;')
</script>
</body>
</html>
